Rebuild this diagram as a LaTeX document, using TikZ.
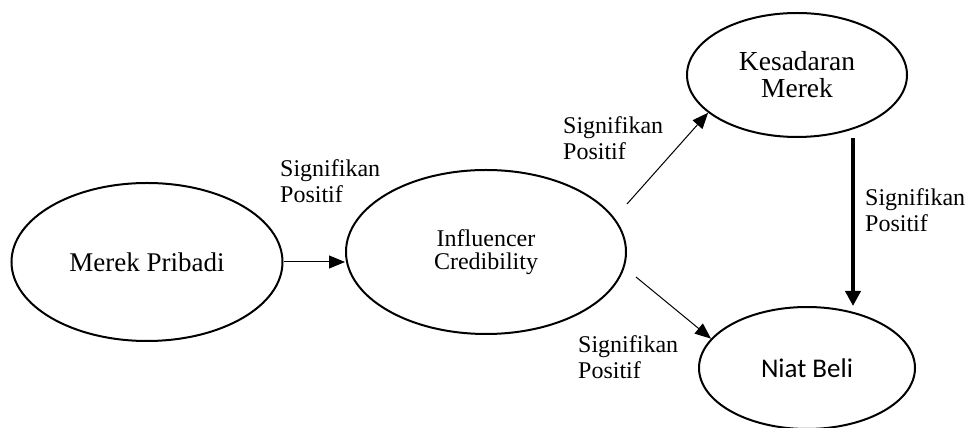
\documentclass[tikz,border=0pt]{standalone}
\usepackage{fontspec}
\setmainfont{Liberation Serif}
\newfontfamily\calibri{Carlito}
\usepackage{tikz}
\usetikzlibrary{shapes, arrows.meta, calc}

\tikzset{
	konstruk/.style={ellipse, draw, line width=2pt, inner sep=0pt},
	sig/.style={anchor=base west, align=left, inner sep=0pt, font=\fontsize{24}{26.5}\selectfont},
	panah/.style={line width=1pt, -{Triangle[length=16pt,width=13pt]}},
	panahtebal/.style={line width=4pt, -{Triangle[length=15pt,width=15pt]}}
}

\begin{document}
\begin{tikzpicture}[x=1pt, y=1pt]
	\useasboundingbox (0,0) rectangle (969,428);
	\node[konstruk, minimum width=271pt, minimum height=158pt,
		font=\fontsize{27}{28}\selectfont] (mp) at (147,166) {Merek Pribadi};
	\node[konstruk, minimum width=280pt, minimum height=164pt, align=center,
		font=\fontsize{24}{23}\selectfont] (ic) at (486,176) {Influencer\\Credibility};
	\node[konstruk, minimum width=220pt, minimum height=124pt, align=center,
		font=\fontsize{27.5}{27}\selectfont] (km) at (797,353) {Kesadaran\\Merek};
	\node[konstruk, minimum width=216pt, minimum height=122pt,
		font=\calibri\fontsize{27}{30}\selectfont] (nb) at (807,60) {Niat Beli};

	\draw[panah] (mp.east) -- (mp.east -| ic.west);
	\draw[panah] ([yshift=48pt]ic.east) -- (km.203);
	\draw[panah] ([shift={(9pt,-25pt)}]ic.east) -- (nb.163);
	\draw[panahtebal] ([xshift=56pt]km.south) -- ([xshift=56pt]km.south |- nb.north);

	\node[sig] (s1) at (280,225) {Signifikan\\Positif};
	\node[sig] (s2) at (563,268) {Signifikan\\Positif};
	\node[sig] (s3) at (578,49) {Signifikan\\Positif};
	\node[sig] (s4) at (865,196) {Signifikan\\Positif};
\end{tikzpicture}
\end{document}
